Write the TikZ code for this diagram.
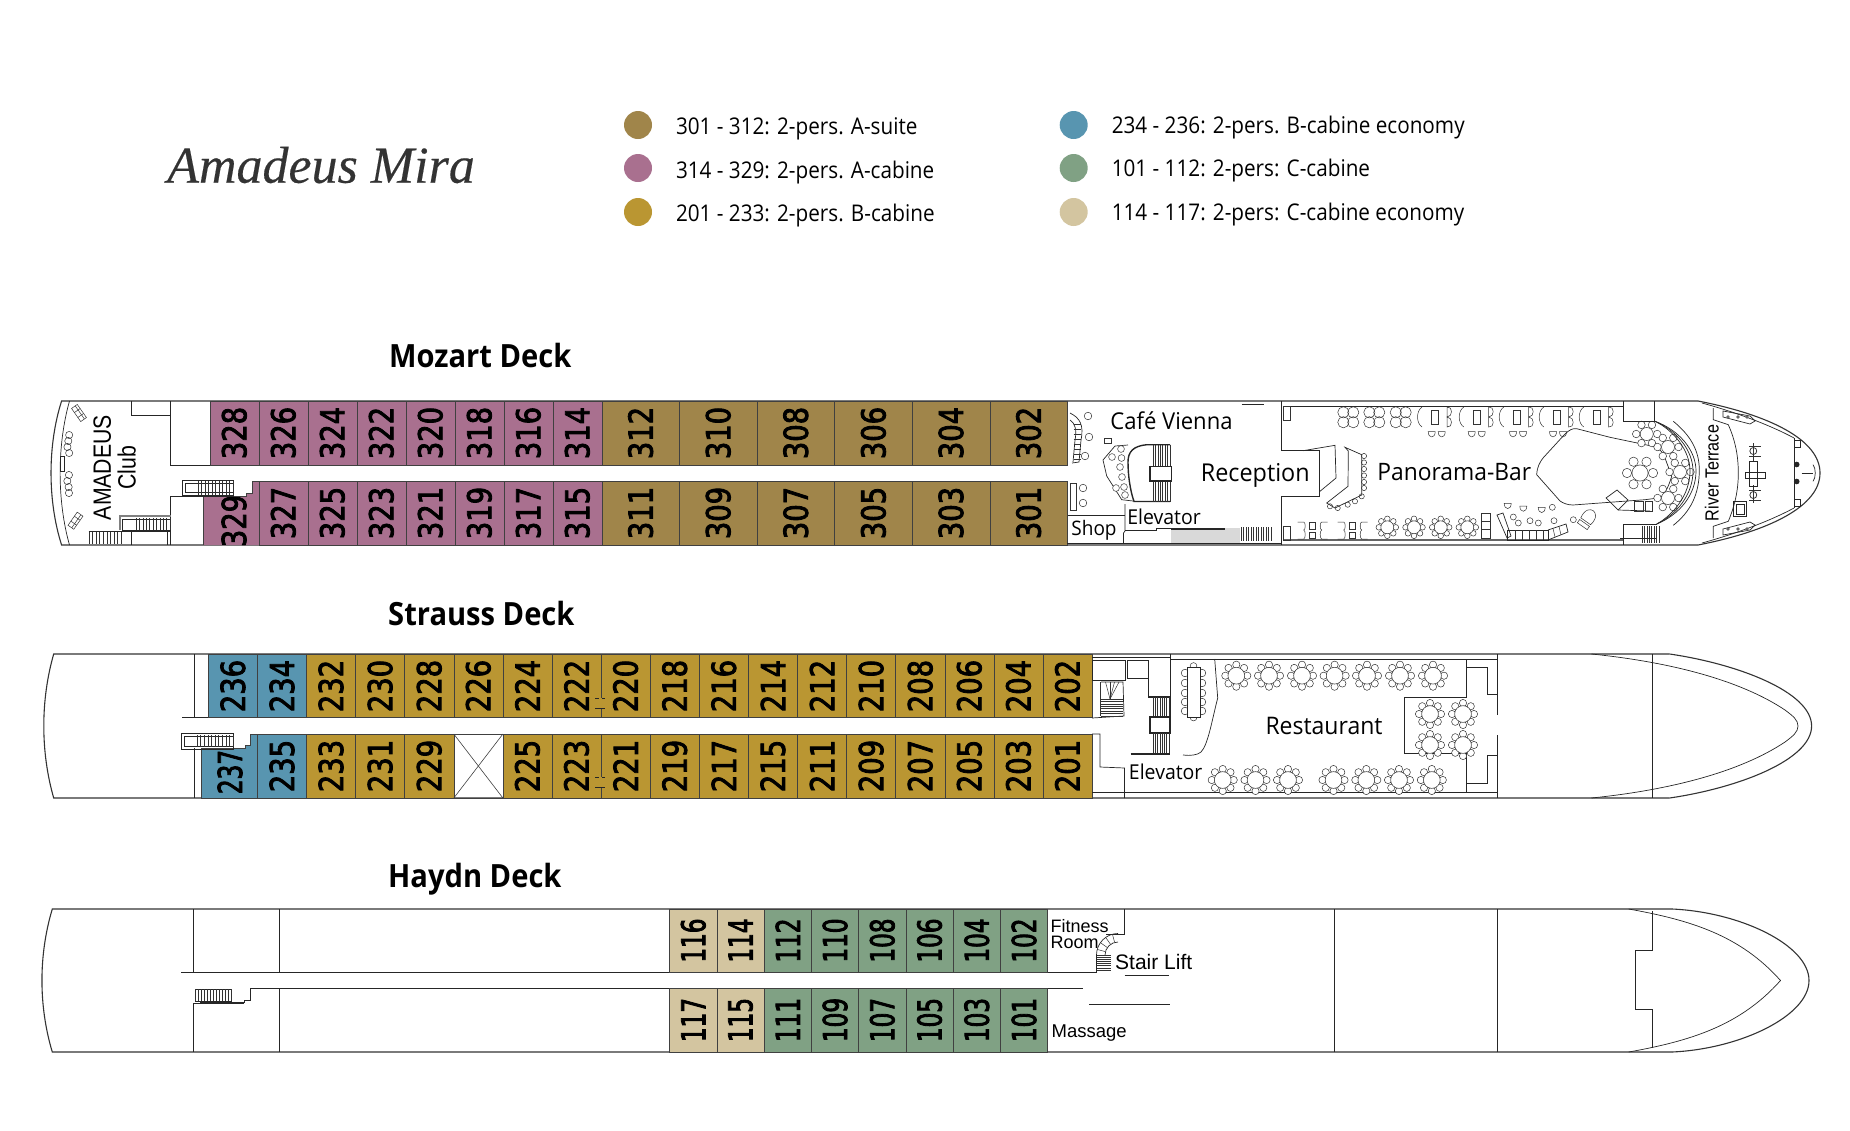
\documentclass[tikz,border=0pt]{standalone}
\usepackage{fontspec}
\setmainfont{Open Sans}
\newfontfamily\titlefont[FakeBold=.3]{Liberation Serif}
\newfontfamily\legendfont[FakeStretch=.90]{Open Sans}
\newfontfamily\labelfont[FakeStretch=.95]{Open Sans}
\newfontfamily\deckfont[FakeStretch=.91]{Open Sans}
\newfontfamily\numfont[FakeStretch=.83,FakeBold=2.5]{DejaVu Sans}
\newfontfamily\numnarrow[FakeStretch=.7,FakeBold=2.5]{DejaVu Sans}
\newfontfamily\roomfont[FakeStretch=.85]{Liberation Sans}
\newfontfamily\plainfont{Liberation Sans}
\definecolor{asuite}{HTML}{A0854A}
\definecolor{acabin}{HTML}{A9708F}
\definecolor{bcabin}{HTML}{BA9632}
\definecolor{beco}{HTML}{5895B0}
\definecolor{ccabin}{HTML}{80A184}
\definecolor{ceco}{HTML}{D3C5A0}
\begin{document}
\begin{tikzpicture}[x=1pt,y=-1pt,
    hull/.style={draw=black!80, line width=1.1pt},
    wall/.style={draw=black!85, line width=.7pt},
    heavy/.style={draw=black!85, line width=1.4pt},
    fine/.style={draw=black!80, line width=.5pt},
    cabin/.style={draw=black!75, line width=.6pt},
    num/.style={inner sep=0, rotate=90, font=\numfont\fontsize{33}{33}\selectfont},
    numsmall/.style={inner sep=0, rotate=90, font=\numnarrow\fontsize{33}{33}\selectfont},
    dot/.style={circle, inner sep=0, minimum size=28pt},
    legend/.style={inner sep=0, anchor=west, font=\legendfont\fontsize{23}{23}\selectfont},
    deck/.style={inner sep=0, anchor=west, font=\deckfont\bfseries\fontsize{32}{32}\selectfont},
    room/.style={inner sep=0, font=\roomfont\fontsize{#1}{#1}\selectfont},
    plain/.style={inner sep=0, anchor=west, font=\plainfont\fontsize{#1}{#1}\selectfont},
    label/.style={inner sep=0, font=\labelfont\fontsize{#1}{#1}\selectfont}]
    \useasboundingbox (0,0) rectangle (1850,1130);

    % petites tables et chaises
    \def\flower#1#2#3{
        \foreach \a in {0,45,...,315} {
            \draw[fine, fill=white] ({#1+#3*cos(\a)},{#2+#3*sin(\a)}) circle ({#3*.33});
        }
        \draw[fine, fill=white] (#1,#2) circle ({#3*.76});
    }
    \def\sixer#1#2#3{
        \foreach \a in {0,60,...,300} {
            \draw[fine, fill=white] ({#1+#3*cos(\a)},{#2+#3*sin(\a)}) circle ({#3*.36});
        }
        \draw[fine, fill=white] (#1,#2) circle ({#3*.62});
    }
    \def\cross#1#2{
        \foreach \a in {45,135,225,315} {
            \draw[fine] ({#1+7*cos(\a)},{#2+7*sin(\a)}) circle (5.6);
        }
    }
    \def\chair#1#2{
        \draw[fine] ({#1-3.5},{#2-3}) -- ({#1+3.5},{#2-3}) .. controls ({#1+3.5},{#2+4}) and ({#1-3.5},{#2+4}) .. cycle;
    }
    \def\stool#1#2{\draw[fine] (#1,#2) circle (2.6);}
    \def\stairsv#1#2#3#4#5{
        % marches verticales de (#1,#3) a (#2,#4)
        \foreach \t in {0,...,#5} {
            \draw[fine] ({#1+(#2-#1)*\t/#5},#3) -- ({#1+(#2-#1)*\t/#5},#4);
        }
    }
    \def\stairsh#1#2#3#4#5{
        \foreach \t in {0,...,#5} {
            \draw[fine] (#1,{#3+(#4-#3)*\t/#5}) -- (#2,{#3+(#4-#3)*\t/#5});
        }
    }

    % Titre et legende
    \node[inner sep=0, anchor=west, text=black!80, font=\titlefont\itshape\fontsize{52}{52}\selectfont] (title) at (167,165) {Amadeus Mira};
    \node[dot, fill=asuite] (d1) at (638,125) {};
    \node[dot, fill=acabin] (d2) at (638,168) {};
    \node[dot, fill=bcabin] (d3) at (638,212) {};
    \node[dot, fill=beco] (d4) at (1073.7,125) {};
    \node[dot, fill=ccabin] (d5) at (1073.7,168) {};
    \node[dot, fill=ceco] (d6) at (1073.7,212) {};
    \node[legend] (l1) at (675.8,129) {301 - 312: 2-pers. A-suite};
    \node[legend] (l2) at (675.8,173) {314 - 329: 2-pers. A-cabine};
    \node[legend] (l3) at (675.8,216) {201 - 233: 2-pers. B-cabine};
    \node[legend] (l4) at (1111.6,128) {234 - 236: 2-pers. B-cabine economy};
    \node[legend] (l5) at (1111.6,171) {101 - 112: 2-pers: C-cabine};
    \node[legend] (l6) at (1111.6,215) {114 - 117: 2-pers: C-cabine economy};
    \node[deck] (mozart) at (389,355) {Mozart Deck};
    \node[deck] (strauss) at (388,613) {Strauss Deck};
    \node[deck] (haydn) at (388,879) {Haydn Deck};

    %%% Mozart Deck
    % Coque
    \draw[hull] (1698,401) -- (61.6,401) .. controls (47.5,445) and (47.5,501) .. (61.6,545) -- (1698,545);
    \draw[wall] (69.5,401) .. controls (57,445) and (57,501) .. (69.5,545);
    \draw[hull] (1698,401) .. controls (1770,415) and (1820,440) .. (1820,473) .. controls (1820,506) and (1770,531) .. (1698,545);
    % Cabines A
    \foreach \n [count=\i from 0] in {328,326,324,322,320,318,316,314} {
        \draw[cabin, fill=acabin] (209.8+\i*49,401) rectangle ++(49,64);
        \node[num] (c\n) at (234.3+\i*49,433) {\n};
    }
    \foreach \n [count=\i from 0] in {327,325,323,321,319,317,315} {
        \draw[cabin, fill=acabin] (258.8+\i*49,481) rectangle ++(49,64);
        \node[num] (c\n) at (283.3+\i*49,513) {\n};
    }
    \begin{scope}
        \clip (203,496) -- (246,496) -- (246,493) -- (252,493) -- (252,481) -- (258.8,481) -- (258.8,545) -- (203,545) -- cycle;
        \fill[acabin] (203,480) rectangle (259,546);
        \node[num] (c329) at (234,521) {329};
    \end{scope}
    \draw[cabin] (203,545) -- (203,496) -- (246,496) -- (246,493) -- (252,493) -- (252,481) -- (258.8,481);
    % Suites
    \foreach \n [count=\i from 0] in {312,310,308,306,304,302} {
        \draw[cabin, fill=asuite] (601.8+\i*77.6,401) rectangle ++(77.6,64);
        \node[num] (c\n) at (640.6+\i*77.6,433) {\n};
    }
    \foreach \n [count=\i from 0] in {311,309,307,305,303,301} {
        \draw[cabin, fill=asuite] (601.8+\i*77.6,481) rectangle ++(77.6,64);
        \node[num] (c\n) at (640.6+\i*77.6,513) {\n};
    }
    % Club
    \draw[wall] (131,401) -- (131,415) -- (170.7,415);
    \draw[wall] (170.7,401) -- (170.7,465) -- (209.8,465);
    \draw[wall] (233.5,496) -- (170.7,496) -- (170.7,545);
    \draw[wall] (182,480) rectangle (233.5,495);
    \draw[wall] (185,483) rectangle (233.5,492);
    \stairsv{198}{233}{481}{495}{10}
    \draw[heavy, draw=black!50] (120,530) -- (120,516) -- (170.7,516);
    \draw[wall] (122,519) rectangle (170.7,530);
    \stairsv{136}{170}{518}{530}{10}
    \stairsv{89}{121}{531}{544}{9}
    \draw[wall] (88.5,531) -- (170.7,531);
    \draw[wall] (131.5,531) -- (131.5,545);
    \draw[wall] (167,531) -- (167,545);
    \draw[wall] (60.4,456.7) rectangle (64.8,471.7);
    \foreach \y in {435,441,447,453,475,481,487,493} {
        \draw[fine] ({68.3+sin(\y*20)},\y) circle (3.6);
    }
    \begin{scope}[shift={(79,413)}, rotate=-55]
        \draw[fine, fill=white] (-8,-3.5) rectangle (8,3.5);
        \draw[fine] (-8,-1) -- (8,-1);
        \draw[fine] (-3,-3.5) -- (-3,3.5);
        \draw[fine] (3,-3.5) -- (3,3.5);
    \end{scope}
    \begin{scope}[shift={(75.5,520.7)}, rotate=55]
        \draw[fine, fill=white] (-8,-3.5) rectangle (8,3.5);
        \draw[fine] (-8,1) -- (8,1);
        \draw[fine] (-3,-3.5) -- (-3,3.5);
        \draw[fine] (3,-3.5) -- (3,3.5);
    \end{scope}
    \node[room=25, rotate=90] (amadeus) at (102.3,467.5) {AMADEUS};
    \node[room=25, rotate=90] (club) at (126.8,467.5) {Club};
    % Cafe Vienna
    \draw[wall] (1070,413) .. controls (1080,418) and (1084,425) .. (1081,440) -- (1079,462) -- (1072,463);
    \draw[wall] (1070,420) .. controls (1075,423) and (1077,430) .. (1075,440) -- (1073,462);
    \foreach \y in {424,429,...,459} {
        \draw[fine] (1073.5,\y) -- (1080.5,\y);
    }
    \foreach \p/\q in {1088/416,1089/437,1085/456,1083/488,1083/503} {
        \draw[fine, fill=white] (\p,\q) circle (3.8);
    }
    \draw[fine] (1070,483) rectangle (1076.7,510);
    \draw[fine] (1104,443.5) rectangle (1111.5,438);
    \draw[wall] (1115,446) -- (1103,460) -- (1106.7,476) -- (1121.7,499.7) -- (1133,501);
    \draw[wall] (1115,446) -- (1128,445);
    \draw[heavy] (1170,444.7) -- (1146.7,444.7) .. controls (1133,446) and (1128,452) .. (1128,462) .. controls (1128,475) and (1130,490) .. (1134,501.5) -- (1170,501.5);
    \stairsv{1153}{1170}{445}{466.3}{7}
    \stairsv{1153}{1170}{481}{501.5}{7}
    \draw[heavy] (1150,466.3) rectangle (1171.7,481);
    \foreach \p/\q in {1112/457,1121/449,1121.5/458,1120/467,1122/477,1116/488,1124/487,1125/495} {
        \draw[fine, fill=white] (\p,\q) circle (3.4);
    }
    \draw[wall] (1125,504) -- (1125,531) -- (1123.5,533) -- (1123.5,543);
    \draw[wall] (1068,515.3) -- (1125,515.3);
    \draw[wall] (1067,543) -- (1281,543);
    \draw[wall] (1125,530) -- (1156.7,530) -- (1156.7,528) -- (1170.7,528);
    \fill[black!15] (1170.7,528) rectangle (1240,543);
    \draw[heavy] (1170.7,529) -- (1225,529);
    \stairsv{1241}{1271}{527.3}{541.3}{12}
    \draw[wall] (1241.7,404.7) -- (1264,404.7);
    % Panorama-Bar
    \draw[wall] (1281,401) -- (1281,450.7) -- (1319.3,450.7) -- (1319.3,496.3) -- (1281,496.3) -- (1281,545);
    \draw[wall] (1283,406) -- (1624,406);
    \draw[heavy, draw=black!60] (1283,540) -- (1624,540);
    \draw[fine] (1283,406) rectangle (1290,420);
    \draw[fine] (1283,526) rectangle (1290,540);
    \draw[wall] (1303,450.7) -- (1335,445.3) -- (1336,478) -- (1320,491.3);
    \draw[wall] (1345,447.3) -- (1361.7,454.7) -- (1361.7,495) -- (1335,508) -- (1326.7,503) -- (1348,486.3) -- (1348.3,451) -- cycle;
    \foreach \q in {456,462.5,469,475.5,482,488} {
        \stool{1364}{\q}
    }
    \foreach \p/\q in {1361.7/496.3,1355/501.3,1347.7/504.7,1337.7/508,1330/506.3} {
        \stool{\p}{\q}
    }
    \foreach \p in {1348.3,1374.3,1400.7} {
        \cross{\p}{417.3}
    }
    \foreach \p in {1435,1476.7,1516.7,1556.7,1596.7} {
        \draw[fine] ({\p-3.7},410) rectangle ({\p+3.7},424);
        \draw[fine] ({\p-13},407) .. controls ({\p-19},411) and ({\p-19},423) .. ({\p-13},427);
        \draw[fine] ({\p+12},407) .. controls ({\p+18},406) and ({\p+18},417) .. ({\p+12},417) .. controls ({\p+18},417) and ({\p+18},428) .. ({\p+12},427) -- cycle;
    }
    \foreach \p in {1431.7,1441.7,1471.7,1481.7,1513,1523,1553,1563} {
        \chair{\p}{434.7}
    }
    \draw[wall] (1576.7,428.7) -- (1610,437.3) -- (1653,446.3) .. controls (1660,449) and (1663,452) .. (1665,458) -- (1671.7,476.3) .. controls (1668,488) and (1664,497) .. (1658,498) -- (1645,499.7) -- (1600,503) -- (1573,505) .. controls (1567,505) and (1563,503) .. (1560,501) -- (1536.7,474.7) .. controls (1537,467) and (1540,462) .. (1543,458) -- (1565,434) .. controls (1569,430) and (1573,428) .. (1576.7,428.7);
    \sixer{1640}{473}{13}
    \sixer{1646.7}{434}{10.5}
    \sixer{1668}{447}{10.5}
    \sixer{1680}{472}{10.5}
    \sixer{1668}{498}{10.5}
    \foreach \p in {1312.7,1352.7} {
        \draw[fine] ({\p-3},522) rectangle ({\p+3},529);
        \draw[fine] ({\p-3},532) rectangle ({\p+3},538);
        \draw[fine] ({\p-15},522) -- ({\p-9},522) .. controls ({\p-7},522) and ({\p-7},530) .. ({\p-9},530) .. controls ({\p-7},530) and ({\p-7},539) .. ({\p-9},539) -- ({\p-15},539);
        \draw[fine] ({\p+15},522) -- ({\p+9},522) .. controls ({\p+7},522) and ({\p+7},530) .. ({\p+9},530) .. controls ({\p+7},530) and ({\p+7},539) .. ({\p+9},539) -- ({\p+15},539);
    }
    \foreach \p in {1387.3,1414,1440.7,1467.3} {
        \flower{\p}{527.3}{8.5}
    }
    \draw[fine] (1481.7,513) rectangle (1490,538);
    \draw[fine] (1481.7,521) -- (1490,521);
    \draw[fine] (1481.7,529) -- (1490,529);
    \draw[wall] (1497,515) -- (1503,513) -- (1511,536) -- (1507,538) -- cycle;
    \draw[wall] (1507,530) rectangle (1548,540);
    \foreach \p in {1515,1522,1529,1536,1543} {
        \draw[fine] (\p,530) -- (\p,540);
    }
    \draw[wall] (1548,530) -- (1566,524) -- (1568,532) -- (1548,540);
    \draw[fine] (1553,528.5) -- (1555,537);
    \draw[fine] (1559,526.5) -- (1561,535);
    \chair{1507.7}{506.3}
    \chair{1523.3}{509}
    \chair{1541.7}{510.3}
    \foreach \p/\q in {1513.3/517,1518.3/523,1530/520.7,1538.3/523,1552.3/507.3,1554/520.7,1573.3/519.7} {
        \draw[fine] (\p,\q) circle (3);
    }
    \begin{scope}[shift={(1588,518)}, rotate=-35]
        \draw[fine] (-6,4) .. controls (-8,-6) and (-3,-9) .. (0,-9) .. controls (3,-9) and (8,-6) .. (6,4) -- cycle;
        \draw[fine] (-6,6) rectangle (6,10);
    \end{scope}
    % Proue
    \draw[wall] (1623.7,401) -- (1623.7,421.3) -- (1654.7,421.3);
    \draw[wall] (1654,401) -- (1654,421.3);
    \foreach \d in {0,3,6} {
        \draw[wall] (1655,421.3) .. controls ({1673+\d},430) and ({1690+\d},450) .. ({1690+\d},471) .. controls ({1690+\d},495) and ({1673+\d},515) .. (1656.7,524);
    }
    \draw[wall] (1673.3,421.3) .. controls (1690,435) and (1699.3,450) .. (1699.3,470) .. controls (1699.3,495) and (1690,512) .. (1673.3,525.3);
    \draw[wall] (1623.3,545) -- (1623.3,524) -- (1656.7,524);
    \stairsv{1642}{1659}{526.3}{543}{7}
    \draw[wall] (1620,538) -- (1656,538);
    % sofa avant
    \draw[wall] (1606,498) -- (1617,490) -- (1628,500) -- (1618,510) -- cycle;
    \draw[wall] (1618,510) -- (1650,511);
    \draw[fine] (1634,501) rectangle (1643,511);
    \draw[fine] (1645,501) rectangle (1652,511);
    % River Terrace
    \draw[wall] (1713.3,408) -- (1713.3,419.7) -- (1728.3,424.7) .. controls (1735,440) and (1738.3,455) .. (1738.3,473) .. controls (1738.3,490) and (1735,505) .. (1728.3,521.3) -- (1713.3,526.3) -- (1713.3,538);
    \draw[wall] (1702,403) .. controls (1735,412) and (1770,425) .. (1794,438);
    \draw[wall] (1702,543) .. controls (1735,534) and (1770,521) .. (1794,508);
    \draw[wall] (1794,438) -- (1794,508);
    \draw[wall, fill=white] (1794,440) rectangle (1800,447);
    \draw[wall, fill=white] (1794,499) rectangle (1800,506);
    \foreach \s in {1,-1} {
        \draw[wall] (1723,{473-\s*62}) -- (1750,{473-\s*57}) -- (1755,{473-\s*52}) -- (1750,{473-\s*49}) -- (1723,{473-\s*56}) -- cycle;
        \foreach \p in {1728,1738,1747} {
            \fill[black!60] (\p,{473-\s*56}) circle (1.8);
        }
        \draw[wall] (1753.3,{473-\s*22}) circle (3.5);
        \draw[fine] (1749,{473-\s*27}) -- (1761,{473-\s*27});
        \draw[fine] (1749,{473-\s*17}) -- (1761,{473-\s*17});
        \draw[fine] (1753.3,{473-\s*30}) -- (1753.3,{473-\s*12});
        \fill[black!85] (1796.7,{473-\s*8.5}) circle (2.8);
    }
    \draw[wall] (1749,461) rectangle (1757,486);
    \draw[wall] (1745,472) rectangle (1765,478);
    \draw[wall] (1733.3,501.3) rectangle (1746.7,516.3);
    \draw[wall] (1736,504) rectangle (1744,514);
    \draw[wall] (1801.7,473) -- (1813,473);
    \draw[wall] (1813,464.7) .. controls (1816,468) and (1816,478) .. (1813,481.3);
    \node[room=19, rotate=90] (terrace) at (1711.7,473) {River Terrace};
    \node[label=23.2] (cafe) at (1171.5,420.6) {Café Vienna};
    \node[label=24.6] (reception) at (1255.3,475) {Reception};
    \node[label=24] (panorama) at (1454.3,472) {Panorama-Bar};
    \node[label=20.5] (elevator1) at (1164,517) {Elevator};
    \node[label=20] (shop) at (1094,530) {Shop};

    %%% Strauss Deck
    \draw[hull] (1669.6,654) -- (53.7,654) .. controls (40.5,700) and (40.5,752) .. (53.7,798) -- (1669.6,798);
    \draw[hull] (1669.6,654) .. controls (1738,664) and (1811.6,692) .. (1811.6,726) .. controls (1811.6,760) and (1738,788) .. (1669.6,798);
    \draw[wall] (1591.5,654) .. controls (1670,662) and (1740,680) .. (1785,710) .. controls (1793,716) and (1798,720) .. (1798,726) .. controls (1798,732) and (1793,736) .. (1785,742) .. controls (1740,772) and (1670,790) .. (1591.5,798);
    \draw[wall] (194.4,654) -- (194.4,717.7);
    \draw[wall] (182,717.7) -- (208.3,717.7);
    \draw[wall] (194.4,748) -- (194.4,798);
    \foreach \n [count=\i from 0] in {236,234} {
        \draw[cabin, fill=beco] (208.3+\i*49.1,654) rectangle ++(49.1,63.7);
        \node[num] (c\n) at (232.9+\i*49.1,686) {\n};
    }
    \foreach \n [count=\i from 0] in {232,230,228,226,224,222,220,218,216,214,212,210,208,206,204,202} {
        \draw[cabin, fill=bcabin] (306.5+\i*49.1,654) rectangle ++(49.1,63.7);
        \node[num] (c\n) at (331+\i*49.1,686) {\n};
    }
    \foreach \n [count=\i from 0] in {233,231,229,0,225,223,221,219,217,215,211,209,207,205,203,201} {
        \ifnum\n=0
            \draw[cabin] (306.5+\i*49.1,734) rectangle ++(49.1,64);
            \draw[cabin] (306.5+\i*49.1,734) -- ++(49.1,64);
            \draw[cabin] (355.6+\i*49.1,734) -- ++(-49.1,64);
        \else
            \draw[cabin, fill=bcabin] (306.5+\i*49.1,734) rectangle ++(49.1,64);
            \node[num] (c\n) at (331+\i*49.1,766) {\n};
        \fi
    }
    \draw[cabin, fill=beco] (257.4,734) rectangle ++(49.1,64);
    \node[num] (c235) at (282,766) {235};
    \draw[cabin, fill=beco] (201,798) -- (201,748) -- (245.4,748) -- (245.4,745) -- (250.5,745) -- (250.5,734) -- (257.4,734) -- (257.4,798) -- cycle;
    \node[numsmall] (c237) at (230,772) {237};
    \draw[wall] (181,733) rectangle (233,749);
    \draw[wall] (184,736) rectangle (233,746);
    \stairsv{197}{233}{735}{747}{10}
    % Portes 222/220 et 223/221
    \foreach \y in {698,708} {
        \draw[wall] (595,\y) -- (605,\y);
    }
    \draw[fill=bcabin, draw=none] (599,698.3) rectangle (601.5,707.7);
    \foreach \y in {777,787.6} {
        \draw[wall] (595,\y) -- (605,\y);
    }
    \draw[fill=bcabin, draw=none] (599,777.3) rectangle (601.5,787.3);
    % Restaurant
    \draw[wall] (1092,657) -- (1170,657);
    \draw[wall] (1170,659) -- (1497,659);
    \draw[heavy] (1170,792.7) -- (1497,792.7);
    \draw[wall] (1092,792) -- (1170,792);
    \draw[wall] (1497,654) -- (1497,715);
    \draw[wall] (1497,735) -- (1497,798);
    \draw[wall] (1092,660) rectangle (1125.5,680.7);
    \draw[wall] (1127,660) rectangle (1148,678);
    \draw[wall] (1148,660) -- (1148,697);
    \draw[wall] (1170,654) -- (1170,733);
    \draw[wall] (1101,682) -- (1123,682) -- (1124,716) -- (1092,718);
    \draw[fine] (1100.5,682) -- (1100.5,716);
    \stairsh{1101}{1123}{699}{716}{7}
    \foreach \t in {1,2,3,4} {
        \draw[fine] (1110,699) -- ({1101+\t*4.5},682);
    }
    \draw[heavy] (1148,697) -- (1170,697);
    \stairsv{1153}{1169}{697}{717}{7}
    \draw[heavy] (1150,717) rectangle (1170,733);
    \stairsv{1153}{1169}{733}{754}{7}
    \draw[heavy] (1130.5,754) -- (1170,754);
    \draw[wall] (1092,734) -- (1100,734) -- (1100,767) -- (1124.5,768) -- (1124.5,798);
    \draw[wall] (1214.7,659) -- (1217.7,698) .. controls (1212,720) and (1208,745) .. (1201,752) .. controls (1198,755) and (1190,756) .. (1183,755);
    \draw[wall] (1466.5,659) -- (1466.5,697) -- (1404.6,697) -- (1404.6,753) -- (1466.5,753) -- (1466.5,792.7);
    \draw[wall] (1466.5,667) -- (1487,667) -- (1487,694) -- (1497,694);
    \draw[wall] (1497,755) -- (1487,755) -- (1487,783) -- (1466.5,783);
    \draw[wall] (1652,654) -- (1652,798);
    \foreach \q in {673,683,693,702,711} {
        \draw[fine, fill=white] (1185,\q) circle (3.8);
        \draw[fine, fill=white] (1202,\q) circle (3.8);
    }
    \draw[fine, fill=white] (1193.5,666) circle (3.4);
    \draw[fine, fill=white] (1193.5,717.5) circle (3.4);
    \draw[wall, fill=white] (1187,667) rectangle (1200,717);
    \foreach \p in {1236.3,1269,1302,1334.6,1367,1400,1433} {
        \flower{\p}{675.7}{11}
    }
    \foreach \p in {1222.7,1255.5,1288,1333.5,1366.3,1399,1431.8} {
        \flower{\p}{780}{11}
    }
    \foreach \p in {1430,1463} {
        \foreach \q in {714,745} {
            \flower{\p}{\q}{11}
        }
    }
    \node[label=24.2] (restaurant) at (1324,726) {Restaurant};
    \node[label=20.5] (elevator2) at (1165.7,771.7) {Elevator};

    %%% Haydn Deck
    \draw[hull] (1672,909) -- (52.3,909) .. controls (38.5,955) and (38.5,1006) .. (52.3,1052) -- (1672,1052);
    \draw[hull] (1672,909) .. controls (1740,912) and (1809,945) .. (1809,980.5) .. controls (1809,1016) and (1740,1049) .. (1672,1052);
    \draw[wall] (1628.7,909) .. controls (1690,920) and (1740,935) .. (1780.5,980.5) .. controls (1740,1026) and (1690,1041) .. (1628.7,1052);
    \draw[wall] (193,909) -- (193,972.3);
    \draw[wall] (279,909) -- (279,972.3);
    \draw[wall] (181,972.3) -- (669.7,972.3);
    \draw[wall] (250,988.7) -- (669.7,988.7);
    \draw[wall] (193,1003) -- (193,1052);
    \draw[wall] (279,988.7) -- (279,1052);
    \foreach \n [count=\i from 0] in {116,114} {
        \draw[cabin, fill=ceco] (669.7+\i*47.25,909) rectangle ++(47.25,63.3);
        \node[numsmall] (c\n) at (693.3+\i*47.25,940.5) {\n};
    }
    \foreach \n [count=\i from 0] in {112,110,108,106,104,102} {
        \draw[cabin, fill=ccabin] (764.2+\i*47.25,909) rectangle ++(47.25,63.3);
        \node[numsmall] (c\n) at (787.8+\i*47.25,940.5) {\n};
    }
    \foreach \n [count=\i from 0] in {117,115} {
        \draw[cabin, fill=ceco] (669.7+\i*47.25,988.7) rectangle ++(47.25,63.3);
        \node[numsmall] (c\n) at (693.3+\i*47.25,1020) {\n};
    }
    \foreach \n [count=\i from 0] in {111,109,107,105,103,101} {
        \draw[cabin, fill=ccabin] (764.2+\i*47.25,988.7) rectangle ++(47.25,63.3);
        \node[numsmall] (c\n) at (787.8+\i*47.25,1020) {\n};
    }
    \draw[wall] (195,989) rectangle (231,1001);
    \stairsv{195}{231}{989}{1001}{12}
    \draw[heavy] (200,1003) -- (244,1003);
    \draw[wall] (193,1003) -- (200,1003);
    \draw[wall] (244,1003) -- (244,1000) -- (250,1000) -- (250,988.7);
    % Fitness, Stair Lift
    \draw[wall] (1124.7,909) -- (1124.7,934) -- (1105.7,934);
    \draw[wall] (1047.7,972) -- (1096.5,972) -- (1096.5,955);
    \draw[wall] (1096.5,955) arc (180:270:21.5);
    \draw[wall] (1105,955) arc (180:270:13);
    \foreach \a in {195,215,235,255} {
        \draw[fine] ({1118+13*cos(\a)},{955+13*sin(\a)}) -- ({1118+21.5*cos(\a)},{955+21.5*sin(\a)});
    }
    \stairsh{1096.5}{1111}{955}{970}{7}
    \draw[wall] (1124.7,975.7) -- (1169,975.7);
    \draw[wall] (1047.7,988.7) -- (1083,988.7);
    \draw[wall] (1089.4,1004) -- (1169.6,1004);
    \draw[wall] (1334.4,909) -- (1334.4,1052);
    \draw[wall] (1497.6,909) -- (1497.6,1052);
    \draw[wall] (1652.6,911) -- (1652.6,950) -- (1635,950) -- (1635,1009) -- (1652.6,1009) -- (1652.6,1048);
    \node[plain=18] (fitness) at (1050.4,925.7) {Fitness};
    \node[plain=18] (roomlabel) at (1050.4,942.7) {Room};
    \node[plain=21] (stairlift) at (1115,961.7) {Stair Lift};
    \node[plain=18.5] (massage) at (1051.5,1033) {Massage};
\end{tikzpicture}
\end{document}
